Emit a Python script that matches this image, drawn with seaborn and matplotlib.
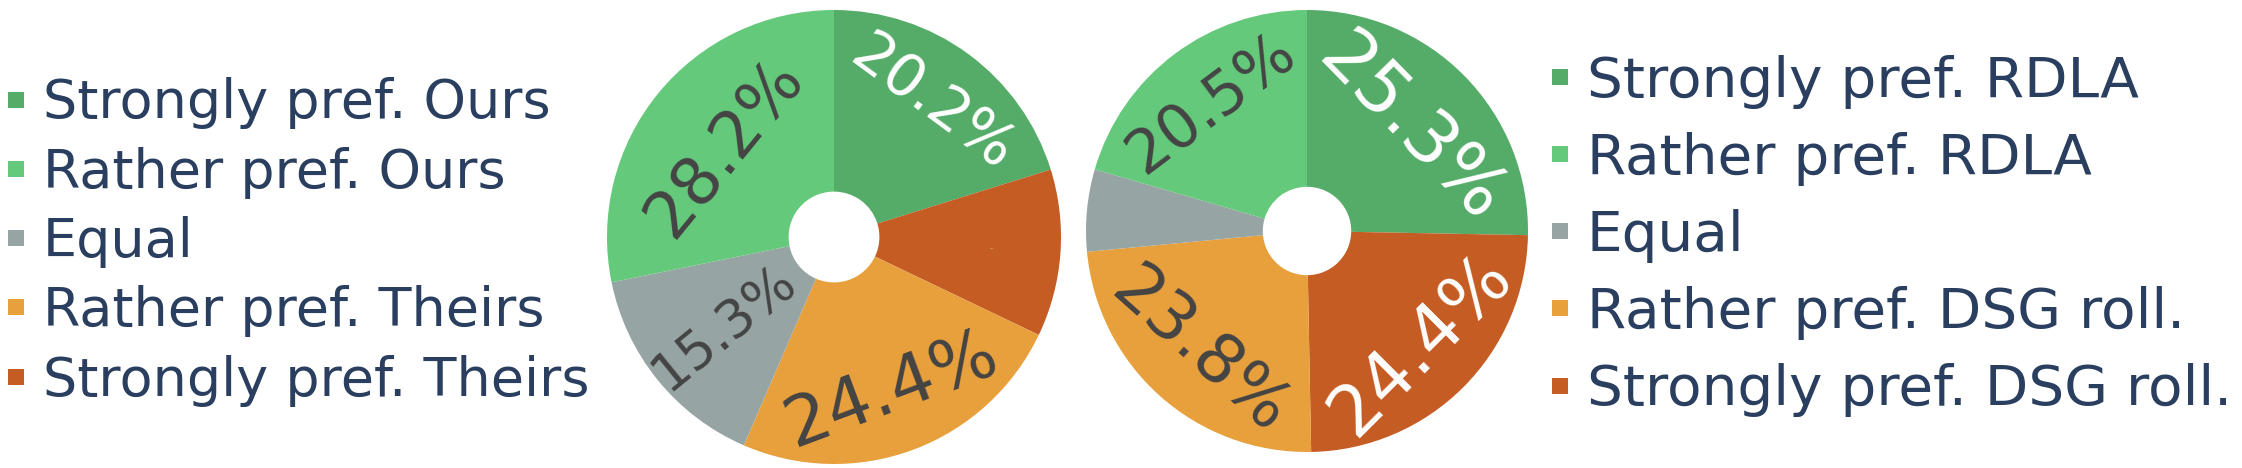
import numpy as np
import matplotlib
matplotlib.use("Agg")
import matplotlib.pyplot as plt
import seaborn as sns
from matplotlib.lines import Line2D

sns.set_theme(style="white")
plt.rcParams['font.family'] = ['DejaVu Sans']

# data (percent of answers)
left_labels = ["Strongly pref. Ours", "Rather pref. Ours", "Equal",
               "Rather pref. Theirs", "Strongly pref. Theirs"]
left_values = [20.2, 28.2, 15.3, 24.4, 11.9]

right_labels = ["Strongly pref. RDLA", "Rather pref. RDLA", "Equal",
                "Rather pref. DSG roll.", "Strongly pref. DSG roll."]
right_values = [25.3, 20.5, 6.0, 23.8, 24.4]

# order of the slices, clockwise from 12 o'clock (index into the lists above)
slice_order = [0, 4, 3, 2, 1]

# style
colors = ["#55ac69", "#64c97a", "#97a4a4", "#e8a03d", "#c45c23"]
text_colors = ["white", "#444444", "#444444", "#444444", "white"]
legend_color = "#2a3f5f"
left_text_px = [59, 66, 53, 70, 0]
right_text_px = [73, 61, 0, 67, 71]
left_text_dist = [0.73, 0.62, 0.63, 0.72, 0.7]
right_text_dist = [0.66, 0.72, 0.7, 0.73, 0.73]

W, H = 2242, 468
fig = plt.figure(figsize=(W / 100, H / 100), dpi=100)


def draw_donut(cx, cy, r, values, text_px, text_dist):
    ax = fig.add_axes([(cx - r) / W, (H - cy - r) / H, 2 * r / W, 2 * r / H])
    vals = [values[i] for i in slice_order]
    cols = [colors[i] for i in slice_order]
    wedges, _ = ax.pie(vals, colors=cols, startangle=90, counterclock=False,
                       wedgeprops=dict(width=0.8, linewidth=0))
    for w, i in zip(wedges, slice_order):
        v = values[i]
        if v < 10:
            continue  # too thin, plotly hides the label
        mid = np.deg2rad((w.theta1 + w.theta2) / 2)
        d = text_dist[i]
        x, y = d * np.cos(mid), d * np.sin(mid)
        ang = np.rad2deg(mid)
        rot = ang if v < 18 else ang - 90
        rot = (rot + 90) % 180 - 90
        ax.text(x, y, f"{v:.1f}%", rotation=rot, rotation_mode="anchor",
                ha="center", va="center", color=text_colors[i],
                fontsize=text_px[i] * 0.72)
    ax.set_xlim(-1, 1)
    ax.set_ylim(-1, 1)
    ax.set_aspect("equal")
    ax.axis("off")
    return ax


def add_legend(labels, x0, yc, fs_px, spacing):
    handles = [Line2D([], [], marker="s", linestyle="none", markersize=11.5,
                      markerfacecolor=c, markeredgewidth=0) for c in colors]
    fig.legend(handles, labels, loc="center left",
               bbox_to_anchor=(x0 / W, 1 - yc / H), frameon=False,
               fontsize=fs_px * 0.72, labelcolor=legend_color,
               handlelength=24 / fs_px, handletextpad=15 / fs_px,
               labelspacing=spacing, borderpad=0, borderaxespad=0)


draw_donut(834, 237, 227, left_values, left_text_px, left_text_dist)
draw_donut(1307, 231, 221, right_values, right_text_px, right_text_dist)

add_legend(left_labels, 4, 242, 54, 0.32)
add_legend(right_labels, 1548, 236, 56.5, 0.41)

fig.savefig("out.png", dpi=100, facecolor="white")
